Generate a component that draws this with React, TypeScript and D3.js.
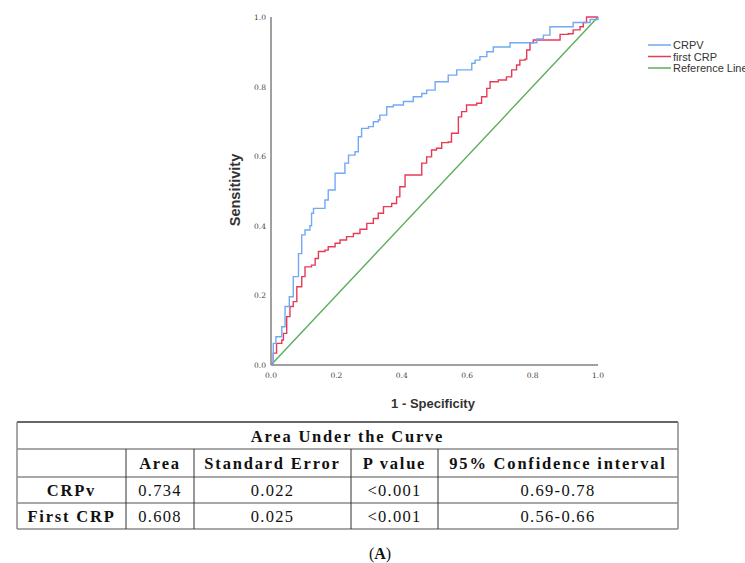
import React from 'react';
import * as d3 from 'd3';

// ROC points (1 - specificity, sensitivity)
const crpvFpr = [0, 0.007, 0.015, 0.027, 0.033, 0.043, 0.056, 0.068, 0.084, 0.094, 0.104, 0.119, 0.124, 0.13, 0.15, 0.165, 0.175, 0.196, 0.21, 0.226, 0.237, 0.257, 0.267, 0.277, 0.298, 0.313, 0.328, 0.333, 0.354, 0.374, 0.405, 0.435, 0.461, 0.476, 0.502, 0.527, 0.542, 0.568, 0.598, 0.614, 0.624, 0.639, 0.66, 0.68, 0.72, 0.731, 0.792, 0.813, 0.833, 0.853, 0.919, 0.924, 0.965, 0.976, 1];
const crpvTpr = [0, 0.062, 0.081, 0.081, 0.11, 0.168, 0.196, 0.254, 0.32, 0.374, 0.388, 0.4, 0.436, 0.45, 0.45, 0.474, 0.503, 0.551, 0.551, 0.58, 0.603, 0.613, 0.656, 0.68, 0.685, 0.699, 0.704, 0.718, 0.742, 0.747, 0.757, 0.771, 0.78, 0.79, 0.814, 0.814, 0.833, 0.848, 0.848, 0.867, 0.876, 0.886, 0.9, 0.914, 0.914, 0.926, 0.926, 0.937, 0.948, 0.972, 0.972, 0.984, 0.984, 0.993, 1];

const firstFpr = [0, 0.007, 0.017, 0.033, 0.038, 0.048, 0.058, 0.068, 0.079, 0.089, 0.094, 0.104, 0.124, 0.135, 0.145, 0.165, 0.175, 0.196, 0.211, 0.231, 0.252, 0.272, 0.293, 0.313, 0.328, 0.344, 0.369, 0.384, 0.394, 0.41, 0.445, 0.461, 0.476, 0.491, 0.506, 0.522, 0.542, 0.552, 0.573, 0.583, 0.598, 0.629, 0.644, 0.66, 0.67, 0.695, 0.72, 0.736, 0.751, 0.761, 0.777, 0.782, 0.792, 0.802, 0.873, 0.884, 0.909, 0.924, 0.945, 0.955, 0.965, 1];
const firstTpr = [0, 0.034, 0.062, 0.072, 0.091, 0.139, 0.168, 0.182, 0.225, 0.225, 0.254, 0.282, 0.287, 0.306, 0.326, 0.33, 0.34, 0.35, 0.359, 0.369, 0.378, 0.39, 0.407, 0.421, 0.436, 0.455, 0.464, 0.483, 0.512, 0.546, 0.546, 0.58, 0.598, 0.618, 0.623, 0.639, 0.641, 0.666, 0.713, 0.728, 0.747, 0.752, 0.771, 0.795, 0.814, 0.819, 0.828, 0.848, 0.862, 0.876, 0.879, 0.905, 0.926, 0.934, 0.934, 0.95, 0.952, 0.963, 0.972, 0.984, 1, 1];

const refFpr = [0, 1];
const refTpr = [0, 1];

const legendLabels = ['CRPV', 'first CRP', 'Reference Line'];
const colors = ['#72a9f4', '#e83a55', '#5cad57'];
const ticks = [0, 0.2, 0.4, 0.6, 0.8, 1.0];

// AUC table
const tableTitle = 'Area Under the Curve';
const headers = ['', 'Area', 'Standard Error', 'P value', '95% Confidence interval'];
const rowNames = ['CRPv', 'First CRP'];
const areas = ['0.734', '0.608'];
const stdErrors = ['0.022', '0.025'];
const pValues = ['<0.001', '<0.001'];
const confInts = ['0.69-0.78', '0.56-0.66'];

export default function App() {
  const x = d3.scaleLinear().domain([0, 1]).range([271, 598]);
  const y = d3.scaleLinear().domain([0, 1]).range([365, 17]);

  const toPts = (xs: number[], ys: number[]) => xs.map((v, i) => [v, ys[i]] as [number, number]);
  const stepLine = d3.line<[number, number]>().x(d => x(d[0])).y(d => y(d[1])).curve(d3.curveStepAfter);
  const straight = d3.line<[number, number]>().x(d => x(d[0])).y(d => y(d[1]));

  const series = [
    {pts: toPts(crpvFpr, crpvTpr), gen: stepLine},
    {pts: toPts(firstFpr, firstTpr), gen: stepLine},
    {pts: toPts(refFpr, refTpr), gen: straight},
  ];

  // table geometry
  const colX = [17, 126, 194, 351, 438, 678];
  const rowY = [422, 449, 477, 503, 529];
  const serif = '"Liberation Serif", "Times New Roman", serif';
  const cellText = (text: string, col: number, row: number, bold: boolean, key: string) => (
    <text key={key} x={(colX[col] + colX[col + 1]) / 2} y={(rowY[row] + rowY[row + 1]) / 2 + 6}
      textAnchor="middle" fontFamily={serif} fontSize={16.5} fontWeight={bold ? 'bold' : 'normal'}
      letterSpacing={bold ? 1.8 : 1.3} fill="#111">{text}</text>
  );

  const bodyRows = rowNames.map((name, i) => [name, areas[i], stdErrors[i], pValues[i], confInts[i]]);

  return (
    <svg width={745} height={563} style={{position: 'absolute', left: 0, top: 0, background: '#fff'}}>
      {/* axes */}
      <line x1={x(0)} x2={x(0)} y1={y(1)} y2={y(0)} stroke="#a0a0a0" strokeWidth={2} />
      <line x1={x(0)} x2={x(1)} y1={y(0)} y2={y(0)} stroke="#a0a0a0" strokeWidth={2} />
      {ticks.map(t => (
        <text key={'y' + t} x={266} y={y(t) + 3} textAnchor="end" fontFamily="'DejaVu Serif', serif" fontSize={7.5} fill="#444">{t.toFixed(1)}</text>
      ))}
      {ticks.map(t => (
        <text key={'x' + t} x={x(t)} y={378} textAnchor="middle" fontFamily="'DejaVu Serif', serif" fontSize={7.5} fill="#444">{t.toFixed(1)}</text>
      ))}
      <text x={433} y={408} textAnchor="middle" fontFamily="'Liberation Sans', Arial, sans-serif" fontSize={13} fontWeight="bold" fill="#333">1 - Specificity</text>
      <text transform="translate(240,190) rotate(-90)" textAnchor="middle" fontFamily="'Liberation Sans', Arial, sans-serif" fontSize={14.5} fontWeight="bold" fill="#333">Sensitivity</text>

      {/* curves */}
      {series.slice().reverse().map((s, i) => (
        <path key={i} d={s.gen(s.pts) || ''} fill="none" stroke={colors[2 - i]} strokeWidth={1.4} />
      ))}

      {/* legend */}
      {legendLabels.map((l, i) => (
        <g key={l} transform={`translate(648,${45 + i * 11.5})`}>
          <line x1={0} x2={23} y1={0} y2={0} stroke={colors[i]} strokeWidth={1.5} />
          <text x={25} y={4} fontFamily="'Liberation Sans', Arial, sans-serif" fontSize={11} fill="#333">{l}</text>
        </g>
      ))}

      {/* table */}
      <line x1={colX[0]} x2={colX[5]} y1={rowY[0]} y2={rowY[0]} stroke="#333" strokeWidth={1.5} />
      {rowY.slice(1).map((ry, i) => (
        <line key={'h' + i} x1={colX[0]} x2={colX[5]} y1={ry} y2={ry} stroke="#8a8a8a" strokeWidth={1.5} />
      ))}
      <line x1={colX[0]} x2={colX[0]} y1={rowY[0]} y2={rowY[4]} stroke="#8a8a8a" strokeWidth={1.5} />
      <line x1={colX[5]} x2={colX[5]} y1={rowY[0]} y2={rowY[4]} stroke="#8a8a8a" strokeWidth={1.5} />
      {colX.slice(1, 5).map((cx, i) => (
        <line key={'v' + i} x1={cx} x2={cx} y1={rowY[1]} y2={rowY[4]} stroke="#333" strokeWidth={1} />
      ))}
      <text x={(colX[0] + colX[5]) / 2} y={(rowY[0] + rowY[1]) / 2 + 6} textAnchor="middle" fontFamily={serif}
        fontSize={16.5} fontWeight="bold" letterSpacing={1.8} fill="#111">{tableTitle}</text>
      {headers.map((h, c) => cellText(h, c, 1, true, 'hd' + c))}
      {bodyRows.map((r, ri) => r.map((v, c) => cellText(v, c, ri + 2, c === 0, `r${ri}c${c}`)))}

      <text x={380} y={559} textAnchor="middle" fontFamily={serif} fontSize={16} fill="#111">
        (<tspan fontWeight="bold">A</tspan>)
      </text>
    </svg>
  );
}
